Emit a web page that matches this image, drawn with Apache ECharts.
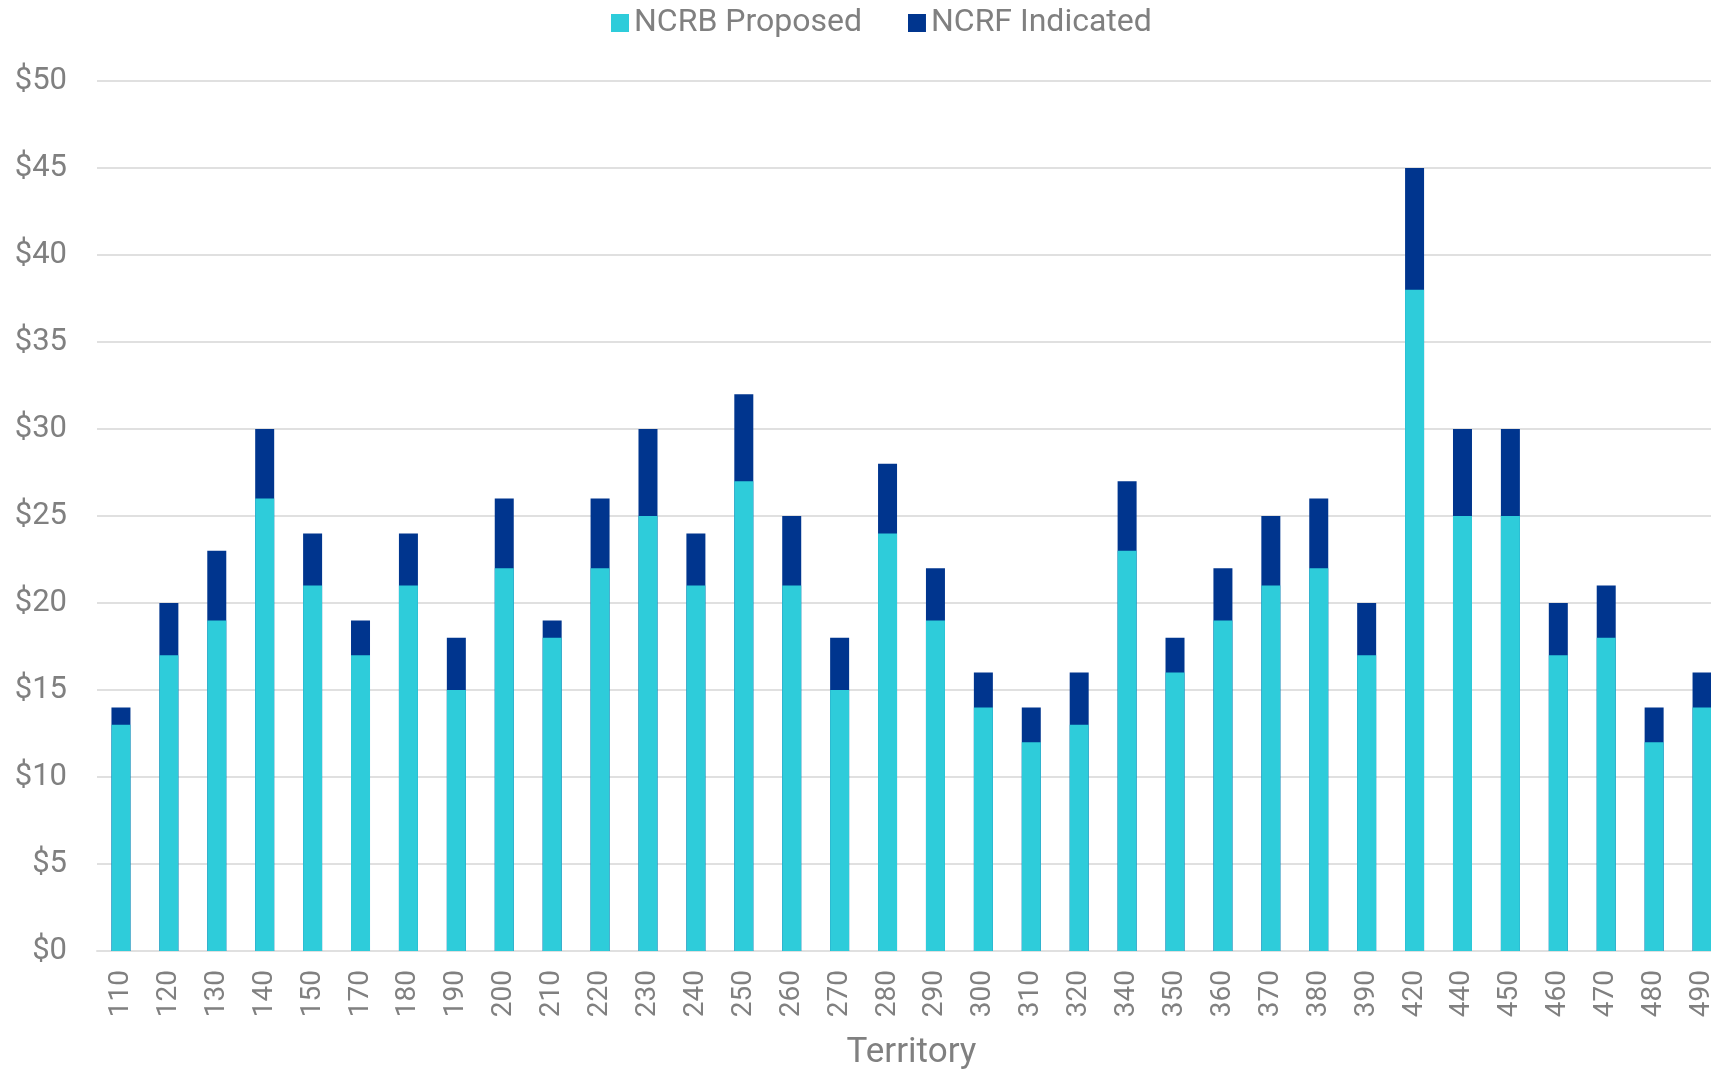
<!DOCTYPE html>
<html>
<head>
<meta charset="utf-8">
<title>NCRB Proposed vs NCRF Indicated by Territory</title>
<script src="https://cdn.jsdelivr.net/npm/echarts@6/dist/echarts.min.js"></script>
<style>
  html, body { margin: 0; padding: 0; background: #ffffff; overflow: hidden; }
  #chart { width: 1711px; height: 1072px; }
</style>
</head>
<body>
<div id="chart"></div>
<script>
// Territory codes along the category axis
const territories = ['110','120','130','140','150','170','180','190','200','210',
  '220','230','240','250','260','270','280','290','300','310',
  '320','340','350','360','370','380','390','420','440','450',
  '460','470','480','490'];

// Proposed rate by territory (dollars)
const ncrbProposed = [13,17,19,26,21,17,21,15,22,18,
  22,25,21,27,21,15,24,19,14,12,
  13,23,16,19,21,22,17,38,25,25,
  17,18,12,14];

// Indicated rate by territory (dollars), drawn behind the proposed bar
const ncrfIndicated = [14,20,23,30,24,19,24,18,26,19,
  26,30,24,32,25,18,28,22,16,14,
  16,27,18,22,25,26,20,45,30,30,
  20,21,14,16];

// Value axis ticks
const yMin = 0;
const yMax = 50;
const yStep = 5;

const textGray = '#808080';
const gridGray = '#E0E0E0';
const font = 'Roboto';

const chart = echarts.init(document.getElementById('chart'), null, { renderer: 'canvas' });

chart.setOption({
  backgroundColor: '#ffffff',
  animation: false,
  textStyle: { fontFamily: font },
  legend: {
    data: ['NCRB Proposed', 'NCRF Indicated'],
    left: 606,
    top: 2,
    itemWidth: 18,
    itemHeight: 18,
    itemGap: 46,
    icon: 'rect',
    textStyle: { color: textGray, fontSize: 32, fontFamily: font }
  },
  // plot area runs a little past the right edge of the canvas
  grid: {
    left: 97,
    top: 81,
    width: 1629,
    height: 870,
    containLabel: false,
    outerBoundsMode: 'none'
  },
  xAxis: {
    type: 'category',
    data: territories,
    name: 'Territory',
    nameLocation: 'middle',
    nameGap: 85,
    nameTextStyle: { color: textGray, fontSize: 35, fontFamily: font },
    axisTick: { show: false },
    axisLine: { lineStyle: { color: gridGray, width: 2 } },
    axisLabel: {
      rotate: 90,
      margin: 19,
      color: textGray,
      fontSize: 28,
      fontFamily: font,
      interval: 0
    }
  },
  yAxis: {
    type: 'value',
    min: yMin,
    max: yMax,
    interval: yStep,
    axisLine: { show: false },
    axisTick: { show: false },
    axisLabel: {
      formatter: '${value}',
      margin: 30,
      color: textGray,
      fontSize: 31,
      fontFamily: font
    },
    splitLine: { lineStyle: { color: gridGray, width: 2 } }
  },
  series: [
    {
      name: 'NCRF Indicated',
      type: 'bar',
      data: ncrfIndicated,
      barWidth: 19,
      barGap: '-100%',
      itemStyle: { color: '#00358E' }
    },
    {
      name: 'NCRB Proposed',
      type: 'bar',
      data: ncrbProposed,
      barWidth: 19,
      barGap: '-100%',
      itemStyle: { color: '#2ECCDA' }
    }
  ]
});
</script>
</body>
</html>
